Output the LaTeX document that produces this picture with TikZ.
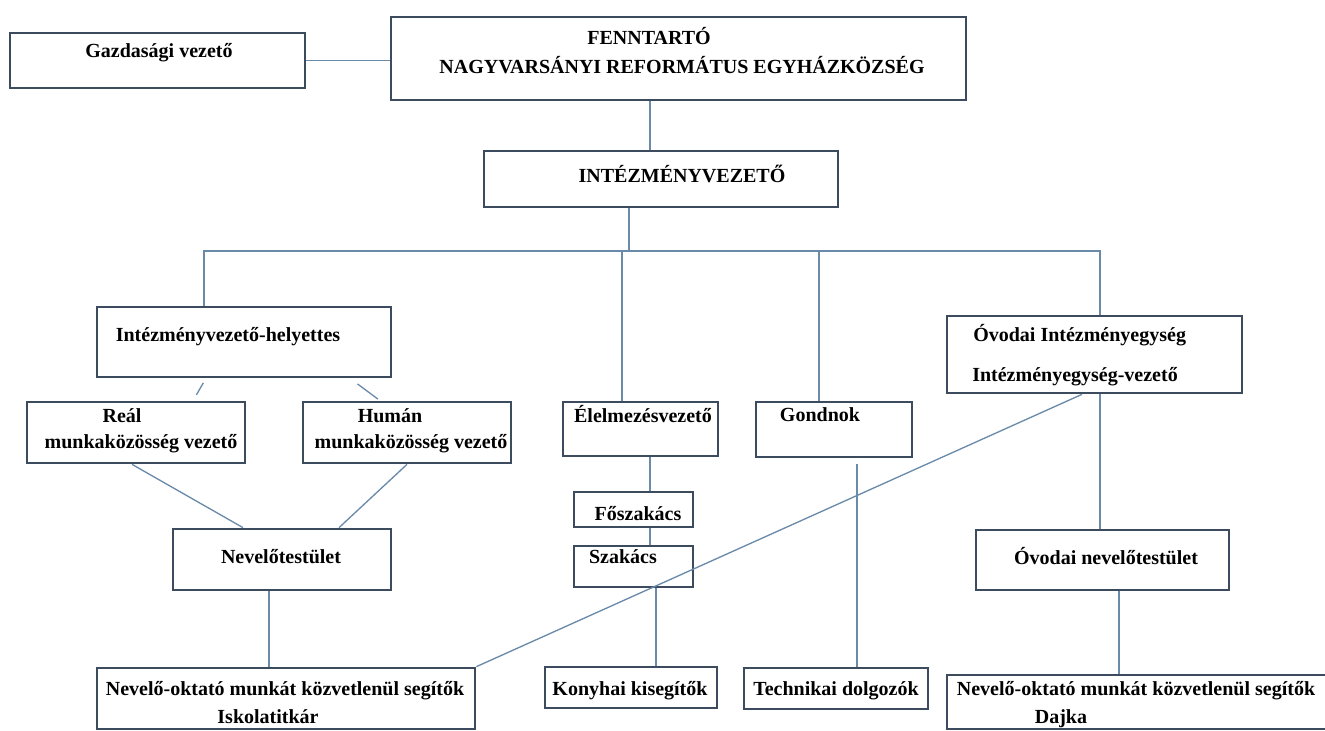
\documentclass[tikz,border=0pt]{standalone}
\usepackage{fontspec}
\setmainfont{Liberation Serif}
\usepackage{xcolor}
\usetikzlibrary{calc, fit}
\definecolor{cBox}{HTML}{3D4B5F}
\definecolor{cLine}{HTML}{6A8AAA}
\begin{document}
\begin{tikzpicture}[x=0.75pt, y=-0.75pt,
  box/.style={draw=cBox, line width=2pt, fill=white, inner sep=0pt},
  txt/.style={font=\bfseries\fontsize{15}{18}\selectfont, text=black, inner sep=0pt, anchor=base},
  con/.style={draw=cLine, line width=1pt}]
\useasboundingbox (0,0) rectangle (1325,731);
% boxes
\node[box, fit={(10,33) (305,88)}] (gaz) {};
\node[box, fit={(391,17) (966,100)}] (fen) {};
\node[box, fit={(484,151) (838,207)}] (int) {};
\node[box, fit={(97,307) (391,377)}] (hely) {};
\node[box, fit={(27,402) (245,463)}] (real) {};
\node[box, fit={(303,402) (511,463)}] (human) {};
\node[box, fit={(563,402) (718,456)}] (elel) {};
\node[box, fit={(756,402) (912,457)}] (gond) {};
\node[box, fit={(947,316) (1242,393)}] (ovi) {};
\node[box, fit={(173,529) (391,590)}] (neve) {};
\node[box, fit={(574,492) (693,527)}] (fosz) {};
\node[box, fit={(574,546) (693,587)}] (szak) {};
\node[box, fit={(976,530) (1229,590)}] (ovneve) {};
\node[box, fit={(97,668) (475,729)}] (nokl) {};
\node[box, fit={(545,667) (717,708)}] (kony) {};
\node[box, fit={(744,668) (928,709)}] (tech) {};
\node[box, fit={(947,675) (1340,729)}] (nokr) {};
% connectors
\coordinate (tA) at (650,0);
\coordinate (busL) at (204,251);
\coordinate (busR) at (1100,251);
\coordinate (bInt) at (629,251);
\coordinate (bElel) at (622,251);
\coordinate (bGond) at (819,251);
\coordinate (kNeve) at (269,0);
\coordinate (kElel) at (650,0);
\coordinate (kSzak) at (656,0);
\coordinate (kGond) at (857,0);
\coordinate (kOvi) at (1119,0);
\draw[con] (gaz.east) -- (gaz.east -| fen.west);
\draw[con] (tA |- fen.south) -- (tA |- int.north);
\draw[con] (bInt |- int.south) -- (bInt);
\draw[con] (busL |- hely.north) -- (busL) -- (busR) -- (busR |- ovi.north);
\foreach \b/\n in {bElel/elel, bGond/gond} \draw[con] (\b) -- (\b |- \n.north);
\draw[con] (busR |- ovi.south) -- (busR |- ovneve.north);
\draw[con, shorten <=4pt, shorten >=5pt] ($(hely.south)+(-38,0)$) -- ($(real.north)+(57,0)$);
\draw[con, shorten <=7pt, shorten >=2pt] ($(hely.south)+(106,0)$) -- ($(human.north)+(-27,0)$);
\draw[con] ($(real.south)+(-4,0)$) -- ($(neve.north)+(-39,0)$);
\draw[con] (human.south) -- ($(neve.north)+(57,0)$);
\foreach \k/\a/\b in {kNeve/neve/nokl, kElel/elel/fosz, kElel/fosz/szak, kSzak/szak/kony, kOvi/ovneve/nokr}
  \draw[con] (\k |- \a.south) -- (\k |- \b.north);
\draw[con, shorten <=4pt] (kGond |- gond.south) -- (kGond |- tech.north);
\draw[con] ($(ovi.south)+(-12.5,0)$) -- (nokl.north east);
% texts
\node[txt] (gazT) at (159,58) {Gazdasági vezető};
\node[txt] (fenT1) at (649,45) {FENNTARTÓ};
\node[txt] (fenT2) at (682,74) {NAGYVARSÁNYI REFORMÁTUS EGYHÁZKÖZSÉG};
\node[txt] (intT) at (682,183) {INTÉZMÉNYVEZETŐ};
\node[txt] (helyT) at (228,341) {Intézményvezető-helyettes};
\node[txt] (realT1) at (122,422) {Reál};
\node[txt] (realT2) at (141,448) {munkaközösség vezető};
\node[txt] (humanT1) at (390,422) {Humán};
\node[txt] (humanT2) at (411,448) {munkaközösség vezető};
\node[txt] (elelT) at (643,422) {Élelmezésvezető};
\node[txt] (gondT) at (820,421) {Gondnok};
\node[txt, anchor=base west] (oviT1) at (973,341) {Óvodai Intézményegység};
\node[txt, anchor=base west] (oviT2) at (972,381) {Intézményegység-vezető};
\node[txt] (foszT) at (638,520) {Főszakács};
\node[txt] (szakT) at (623,563) {Szakács};
\node[txt] (neveT) at (281,563) {Nevelőtestület};
\node[txt] (ovneveT) at (1106,564) {Óvodai nevelőtestület};
\node[txt] (noklT1) at (285,695) {Nevelő-oktató munkát közvetlenül segítők};
\node[txt] (noklT2) at (268,723) {Iskolatitkár};
\node[txt] (konyT) at (630,695) {Konyhai kisegítők};
\node[txt] (techT) at (836,695) {Technikai dolgozók};
\node[txt] (nokrT1) at (1136,695) {Nevelő-oktató munkát közvetlenül segítők};
\node[txt] (nokrT2) at (1061,723) {Dajka};
\end{tikzpicture}
\end{document}
